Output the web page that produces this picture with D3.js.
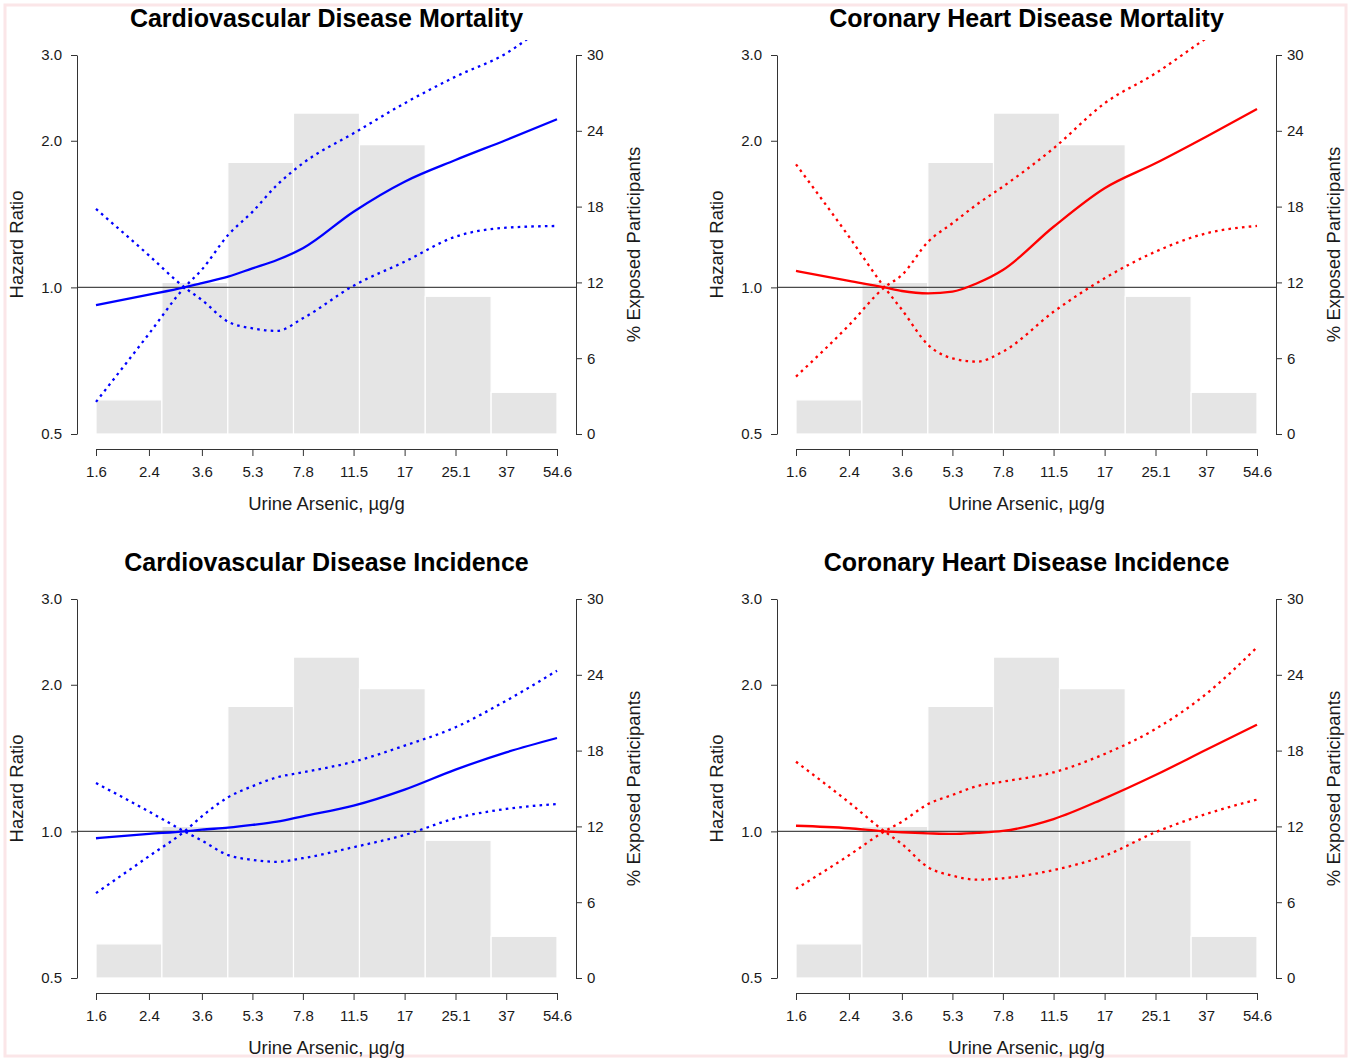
<!DOCTYPE html>
<html>
<head>
<meta charset="utf-8">
<script src="https://cdn.jsdelivr.net/npm/d3@7"></script>
<style>
  body { margin: 0; background: #fff; }
  svg { display: block; font-family: "Liberation Sans", Arial, Helvetica, sans-serif; }
</style>
</head>
<body>
<svg id="chart" width="1351" height="1061"></svg>
<script>
// axis ticks
const xTicks = [1.6, 2.4, 3.6, 5.3, 7.8, 11.5, 17, 25.1, 37, 54.6];
const hrTicks = [0.5, 1.0, 2.0, 3.0];
const pctTicks = [0, 6, 12, 18, 24, 30];

// histogram of exposure (same in all panels)
const binEdges = [1.6, 2.65, 4.39, 7.26, 12.03, 19.91, 32.97, 54.6];
const pctExposed = [2.7, 12.0, 21.5, 25.4, 22.9, 10.9, 3.3];

// points where the spline curves were read
const xGrid = [1.6, 2.4, 3.15, 3.6, 4.4, 5.3, 6.4, 7.8, 11.5, 17, 25.1, 37, 54.6];

// CVD mortality
const cvdMortEst = [0.92, 0.966, 1.0, 1.02, 1.052, 1.094, 1.138, 1.203, 1.43, 1.648, 1.826, 2.007, 2.214];
const cvdMortCi1 = [0.582, 0.803, 1.0, 1.088, 1.281, 1.429, 1.623, 1.798, 2.072, 2.388, 2.708, 3.024, 3.62];
const cvdMortCi2 = [1.449, 1.163, 1.0, 0.942, 0.85, 0.824, 0.814, 0.864, 1.008, 1.129, 1.271, 1.326, 1.337];

// CHD mortality
const chdMortEst = [1.081, 1.031, 1.0, 0.983, 0.972, 0.98, 1.02, 1.086, 1.332, 1.598, 1.798, 2.039, 2.324];
const chdMortCi1 = [0.656, 0.836, 1.0, 1.06, 1.241, 1.354, 1.481, 1.61, 1.93, 2.388, 2.751, 3.247, 3.8];
const chdMortCi2 = [1.789, 1.271, 1.0, 0.9, 0.762, 0.715, 0.704, 0.738, 0.891, 1.044, 1.184, 1.291, 1.337];

// CVD incidence
const cvdIncEst = [0.968, 0.988, 1.0, 1.008, 1.018, 1.031, 1.047, 1.074, 1.129, 1.218, 1.339, 1.453, 1.555];
const cvdIncCi1 = [0.747, 0.889, 1.0, 1.074, 1.175, 1.238, 1.291, 1.322, 1.39, 1.5, 1.636, 1.855, 2.138];
const cvdIncCi2 = [1.257, 1.098, 1.0, 0.957, 0.894, 0.874, 0.866, 0.881, 0.928, 0.983, 1.064, 1.112, 1.138];

// CHD incidence
const chdIncEst = [1.027, 1.015, 1.0, 0.996, 0.991, 0.988, 0.993, 1.002, 1.06, 1.169, 1.305, 1.471, 1.656];
const chdIncCi1 = [0.762, 0.893, 1.0, 1.047, 1.138, 1.188, 1.238, 1.265, 1.322, 1.442, 1.623, 1.915, 2.388];
const chdIncCi2 = [1.39, 1.147, 1.0, 0.942, 0.844, 0.811, 0.796, 0.801, 0.833, 0.891, 0.996, 1.086, 1.162];

const panels = [
  { title: "Cardiovascular Disease Mortality", color: "#0000ff", est: cvdMortEst, ci1: cvdMortCi1, ci2: cvdMortCi2, dx: 0, dy: 0 },
  { title: "Coronary Heart Disease Mortality", color: "#ff0000", est: chdMortEst, ci1: chdMortCi1, ci2: chdMortCi2, dx: 700, dy: 0 },
  { title: "Cardiovascular Disease Incidence", color: "#0000ff", est: cvdIncEst, ci1: cvdIncCi1, ci2: cvdIncCi2, dx: 0, dy: 544 },
  { title: "Coronary Heart Disease Incidence", color: "#ff0000", est: chdIncEst, ci1: chdIncCi1, ci2: chdIncCi2, dx: 700, dy: 544 },
];

const svg = d3.select("#chart");

// faint frame round the figure
svg
  .append("rect")
  .attr("x", 5)
  .attr("y", 5)
  .attr("width", 1341)
  .attr("height", 1051)
  .attr("fill", "none")
  .attr("stroke", "#fbe6e8")
  .attr("stroke-width", 3);

const x = d3.scaleLog().domain([1.6, 54.6]).range([96, 557]);
const yHr = d3.scaleLog().domain([0.5, 3]).range([434, 55]);
const yPct = d3.scaleLinear().domain([0, 30]).range([434, 55]);

const axisColor = "#333";
const textColor = "#1a1a1a";

function styleAxis(g, size) {
  g.attr("font-family", null).attr("font-size", null);
  g.select(".domain").attr("stroke", axisColor).attr("stroke-width", 1);
  g.selectAll(".tick line").attr("stroke", axisColor).attr("stroke-width", 1);
  g.selectAll(".tick text").attr("font-size", size).attr("fill", textColor);
}

panels.forEach((p, i) => {
  const g = svg.append("g").attr("transform", `translate(${p.dx},${p.dy})`);

  const clipId = `clip-${i}`;
  g.append("clipPath")
    .attr("id", clipId)
    .append("rect")
    .attr("x", 77)
    .attr("y", 40)
    .attr("width", 499)
    .attr("height", 409);

  // histogram bars
  g.append("g")
    .selectAll("rect")
    .data(pctExposed)
    .join("rect")
    .attr("x", (d, k) => x(binEdges[k]))
    .attr("width", (d, k) => x(binEdges[k + 1]) - x(binEdges[k]))
    .attr("y", (d) => yPct(d))
    .attr("height", (d) => yPct(0) - yPct(d))
    .attr("fill", "#e5e5e5")
    .attr("stroke", "#fff")
    .attr("stroke-width", 1.2);

  // reference line HR = 1
  g.append("line")
    .attr("x1", 77)
    .attr("x2", 576)
    .attr("y1", yHr(1))
    .attr("y2", yHr(1))
    .attr("stroke", "#4a4a4a")
    .attr("stroke-width", 1.3);

  const line = d3
    .line()
    .curve(d3.curveMonotoneX)
    .x((d) => x(d[0]))
    .y((d) => yHr(d[1]));

  const curves = g.append("g").attr("clip-path", `url(#${clipId})`);

  [p.ci1, p.ci2].forEach((ci) => {
    curves
      .append("path")
      .datum(xGrid.map((v, k) => [v, ci[k]]))
      .attr("d", line)
      .attr("fill", "none")
      .attr("stroke", p.color)
      .attr("stroke-width", 2.3)
      .attr("stroke-dasharray", "2.6,4.2");
  });

  curves
    .append("path")
    .datum(xGrid.map((v, k) => [v, p.est[k]]))
    .attr("d", line)
    .attr("fill", "none")
    .attr("stroke", p.color)
    .attr("stroke-width", 2.3);

  // axes
  g.append("g")
    .attr("transform", "translate(77,0)")
    .call(
      d3.axisLeft(yHr).tickValues(hrTicks).tickFormat(d3.format(".1f")).tickSize(6).tickSizeOuter(0).tickPadding(9)
    )
    .call((a) => styleAxis(a, 15));

  g.append("g")
    .attr("transform", "translate(576,0)")
    .call(d3.axisRight(yPct).tickValues(pctTicks).tickSize(6).tickSizeOuter(0).tickPadding(5))
    .call((a) => styleAxis(a, 15));

  g.append("g")
    .attr("transform", "translate(0,449)")
    .call(d3.axisBottom(x).tickValues(xTicks).tickFormat((d) => d).tickSize(7).tickSizeOuter(0).tickPadding(10))
    .call((a) => styleAxis(a, 15));

  // labels
  g.append("text")
    .attr("x", 326.5)
    .attr("y", 27)
    .attr("text-anchor", "middle")
    .attr("font-size", 25)
    .attr("font-weight", "bold")
    .attr("fill", "#000")
    .text(p.title);

  g.append("text")
    .attr("x", 326.5)
    .attr("y", 510)
    .attr("text-anchor", "middle")
    .attr("font-size", 18.5)
    .attr("fill", textColor)
    .text("Urine Arsenic, µg/g");

  g.append("text")
    .attr("transform", "translate(22.5,244.5) rotate(-90)")
    .attr("text-anchor", "middle")
    .attr("font-size", 18.5)
    .attr("fill", textColor)
    .text("Hazard Ratio");

  g.append("text")
    .attr("transform", "translate(640,244.5) rotate(-90)")
    .attr("text-anchor", "middle")
    .attr("font-size", 18.5)
    .attr("fill", textColor)
    .text("% Exposed Participants");
});
</script>
</body>
</html>
